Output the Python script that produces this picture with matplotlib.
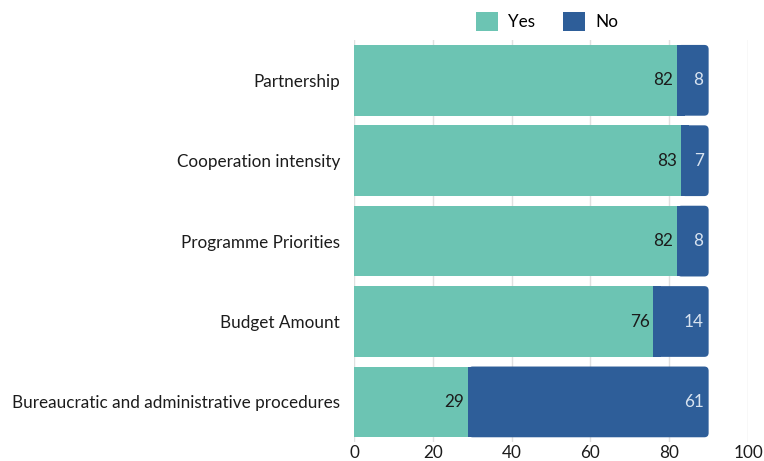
import matplotlib.pyplot as plt
from matplotlib.patches import FancyBboxPatch, Patch

plt.rcParams['font.family'] = ['Lato', 'DejaVu Sans']

categories = ["Partnership", "Cooperation intensity", "Programme Priorities",
              "Budget Amount", "Bureaucratic and administrative procedures"]
yes = [82, 83, 82, 76, 29]
no = [8, 7, 8, 14, 61]

yes_color = '#6cc4b3'
no_color = '#2e5e99'

fig = plt.figure(figsize=(7.64, 4.61), dpi=100)
ax = fig.add_axes([0.4634, 0.041, 0.5157, 0.872])

h = 0.88
pos = list(range(len(categories)))

ax.barh(pos, yes, height=h, color=yes_color, zorder=2)

# rounded right end on the "No" segment
asp = (1 / 80.4) / (1 / 3.94)
for i, (y_, n_) in enumerate(zip(yes, no)):
    p = FancyBboxPatch((y_, i - h / 2), n_, h,
                       boxstyle="round,pad=0,rounding_size=1.1",
                       mutation_aspect=asp, fc=no_color, ec='none', zorder=2)
    ax.add_patch(p)
    ax.barh(i, min(2, n_), left=y_, height=h, color=no_color, zorder=2)

    ax.text(y_ - 1.0, i, str(y_), ha='right', va='center', fontsize=12.3,
            color='#1c1c1c', zorder=3)
    ax.text(y_ + n_ - 1.3, i, str(n_), ha='right', va='center', fontsize=12.3,
            color='#d8e3f0', zorder=3)

ax.set_xlim(0, 100)
ax.set_ylim(len(categories) - 0.5, -0.5)
ax.set_yticks(pos)
ax.set_yticklabels(categories, fontsize=12.3, color='#1c1c1c')
ax.set_xticks([0, 20, 40, 60, 80, 100])
ax.tick_params(axis='x', labelsize=12.3, colors='#1c1c1c', length=0, pad=2)
ax.tick_params(axis='y', length=0, pad=10)
ax.grid(axis='x', color='#e0e0e0', linewidth=1, zorder=0)
for s in ax.spines.values():
    s.set_visible(False)

handles = [Patch(facecolor=yes_color, label='Yes'),
           Patch(facecolor=no_color, label='No')]
fig.legend(handles=handles, loc='center', bbox_to_anchor=(0.716, 0.953),
           ncol=2, frameon=False, fontsize=12.3, handlelength=1.3,
           handleheight=1.3, handletextpad=0.6, columnspacing=1.6)

fig.savefig('out.png', dpi=100)
